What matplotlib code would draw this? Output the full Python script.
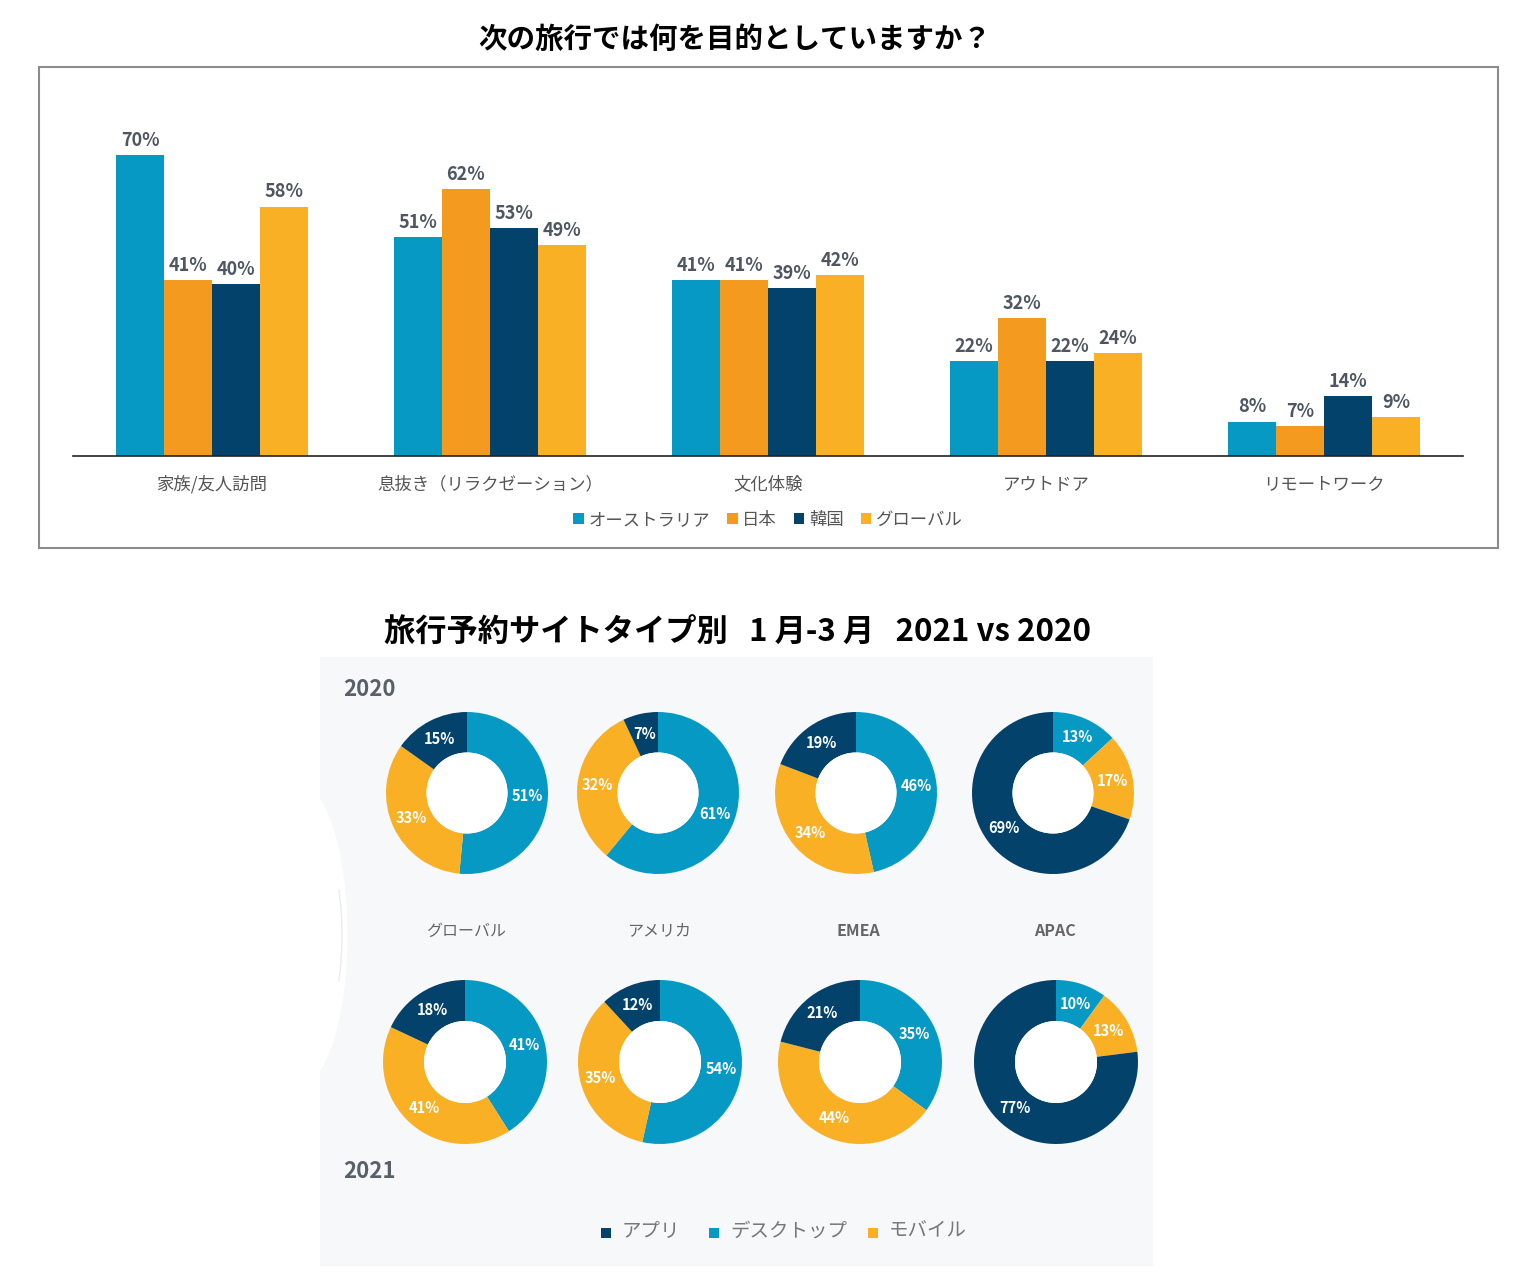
import matplotlib
matplotlib.use("Agg")
import matplotlib.pyplot as plt
import numpy as np
from matplotlib.patches import Rectangle, Ellipse, Arc, Circle

plt.rcParams["font.family"] = ["Noto Sans CJK JP", "DejaVu Sans"]

# ------------------------------------------------------------------
# Data
# ------------------------------------------------------------------

purposes = ["家族/友人訪問", "息抜き（リラクゼーション）", "文化体験", "アウトドア", "リモートワーク"]
countries = ["オーストラリア", "日本", "韓国", "グローバル"]
australia = [70, 51, 41, 22, 8]
japan = [41, 62, 41, 32, 7]
korea = [40, 53, 39, 22, 14]
global_avg = [58, 49, 42, 24, 9]

regions = ["グローバル", "アメリカ", "EMEA", "APAC"]
device_types = ["アプリ", "デスクトップ", "モバイル"]
# order clockwise from top: desktop, mobile, app
desktop_2020 = [51, 61, 46, 13]
mobile_2020 = [33, 32, 34, 17]
app_2020 = [15, 7, 19, 69]
desktop_2021 = [41, 54, 35, 10]
mobile_2021 = [41, 35, 44, 13]
app_2021 = [18, 12, 21, 77]

C_BLUE = "#0599c3"
C_ORANGE = "#f39a1f"
C_NAVY = "#03426b"
C_YELLOW = "#f9b024"
TEXT_GRAY = "#4e5661"

W, H = 1536, 1273
fig = plt.figure(figsize=(W / 100, H / 100), dpi=100)


def px_axes(x0, y0, w, h):
    return fig.add_axes([x0 / W, 1 - (y0 + h) / H, w / W, h / H])


def fx(x):
    return x / W


def fy(y):
    return 1 - y / H


# ------------------------------------------------------------------
# Top: grouped bar chart
# ------------------------------------------------------------------

fig.text(fx(735), fy(40), "次の旅行では何を目的としていますか？", ha="center", va="center",
         fontsize=20.5, fontweight="bold", color="black")

fig.patches.append(Rectangle((fx(39), fy(548)), fx(1459), fy(67) - fy(548),
                             transform=fig.transFigure, fill=False,
                             edgecolor="#8c8c8c", linewidth=1.5))

ax = px_axes(73, 100, 1390, 356)
x = np.arange(len(purposes))
bw = 0.1727
series = [australia, japan, korea, global_avg]
colors = [C_BLUE, C_ORANGE, C_NAVY, C_YELLOW]
for i, (vals, col, name) in enumerate(zip(series, colors, countries)):
    bars = ax.bar(x + (i - 1.5) * bw, vals, bw, color=col, label=name)
    for b, v in zip(bars, vals):
        ax.text(b.get_x() + b.get_width() / 2, v + 1.2, f"{v}%", ha="center", va="bottom",
                fontsize=13, fontweight="bold", color=TEXT_GRAY)

ax.set_xlim(-0.5, 4.5)
ax.set_ylim(0, 82.8)
ax.set_yticks([])
ax.set_xticks(x)
ax.set_xticklabels(purposes, fontsize=12.5, color="#555555")
ax.tick_params(axis="x", length=0, pad=14)
for s in ["top", "right", "left"]:
    ax.spines[s].set_visible(False)
ax.spines["bottom"].set_color("#222222")
ax.spines["bottom"].set_linewidth(1.2)
ax.patch.set_alpha(0)

ax.legend(loc="center", bbox_to_anchor=(0.5, -0.18), ncol=4, frameon=False,
          fontsize=12.5, handlelength=0.6, handleheight=0.6, handletextpad=0.25,
          columnspacing=1.0, labelcolor="#555555")

# ------------------------------------------------------------------
# Bottom: donut charts
# ------------------------------------------------------------------

fig.text(fx(737), fy(633), "旅行予約サイトタイプ別   1 月-3 月   2021 vs 2020", ha="center", va="center",
         fontsize=22.5, fontweight="bold", color="black")

fig.patches.append(Rectangle((fx(320), fy(1266)), fx(833), fy(657) - fy(1266),
                             transform=fig.transFigure, facecolor="#f7f8fa",
                             edgecolor="none", zorder=0))
fig.patches.append(Ellipse((fx(300), fy(935)), fx(95), fy(0) - fy(300),
                           transform=fig.transFigure, facecolor="white",
                           edgecolor="none", zorder=0))
fig.patches.append(Arc((fx(300), fy(935)), fx(84), fy(0) - fy(240), theta1=-55, theta2=55,
                       transform=fig.transFigure, edgecolor="#ececec",
                       linewidth=1, zorder=0))

fig.text(fx(343), fy(689), "2020", ha="left", va="center", fontsize=16,
         fontweight="bold", color="#5a6068")
fig.text(fx(343), fy(1172), "2021", ha="left", va="center", fontsize=16,
         fontweight="bold", color="#5a6068")

centers_2020 = [467, 658, 856, 1053]
centers_2021 = [465, 660, 860, 1056]


def donut(cx, cy, r, vals):
    a = px_axes(cx - r, cy - r, 2 * r, 2 * r)
    a.set_zorder(3)
    wedges, _ = a.pie(vals, colors=[C_BLUE, C_YELLOW, C_NAVY], startangle=90,
                      counterclock=False, radius=1.0,
                      wedgeprops=dict(width=0.5, edgecolor="none"))
    a.add_patch(Circle((0, 0), 0.5, facecolor="white", edgecolor="none"))
    for w, v in zip(wedges, vals):
        ang = np.deg2rad((w.theta1 + w.theta2) / 2)
        a.text(0.75 * np.cos(ang), 0.75 * np.sin(ang), f"{v}%", ha="center", va="center",
               fontsize=10.5, fontweight="bold", color="white")
    a.set_xlim(-1, 1)
    a.set_ylim(-1, 1)
    a.set_aspect("equal")
    a.axis("off")


for i in range(4):
    donut(centers_2020[i], 793, 81,
          [desktop_2020[i], mobile_2020[i], app_2020[i]])
    donut(centers_2021[i], 1062, 82,
          [desktop_2021[i], mobile_2021[i], app_2021[i]])
    fig.text(fx((centers_2020[i] + centers_2021[i]) / 2), fy(931), regions[i],
             ha="center", va="center", fontsize=11.5,
             fontweight="bold" if regions[i] in ("EMEA", "APAC") else "normal",
             color="#666666")

# bottom legend
leg_x = [606, 714, 873]
leg_colors = [C_NAVY, C_BLUE, C_YELLOW]
for lx, col, name in zip(leg_x, leg_colors, device_types):
    fig.patches.append(Rectangle((fx(lx - 5), fy(1238)), fx(10), fy(1228) - fy(1238),
                                 transform=fig.transFigure, facecolor=col, edgecolor="none"))
    fig.text(fx(lx + 16), fy(1231), name, ha="left", va="center", fontsize=14,
             color="#777777")

fig.savefig("out.png", dpi=100, facecolor="white")
